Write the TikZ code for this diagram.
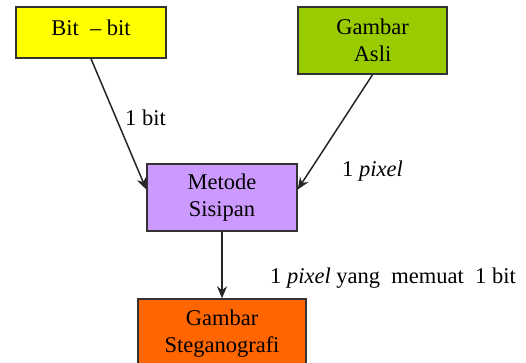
\documentclass[tikz,border=0pt]{standalone}
\usepackage{fontspec}
\setmainfont{Liberation Serif}
\usetikzlibrary{arrows.meta}
\definecolor{boxyellow}{HTML}{FFFF00}
\definecolor{boxgreen}{HTML}{99CC00}
\definecolor{boxpurple}{HTML}{CC99FF}
\definecolor{boxorange}{HTML}{FF6600}
\begin{document}
\begin{tikzpicture}[x=1pt,y=-1pt,
  every node/.style={font=\fontsize{22.5}{27}\selectfont},
  block/.style={draw=black!80, line width=1.4pt, align=center, inner sep=0pt},
  flow/.style={draw=black!85, line width=1.5pt, -{Stealth[length=12pt,width=10pt]}},
  lbl/.style={anchor=west, inner sep=0pt}]
  \clip (0,0) rectangle (526,363);
  \fill[white] (0,0) rectangle (526,363);

  % input, method and output boxes
  \node[block, fill=boxyellow, minimum width=150pt, minimum height=51pt]
    (bits) at (91,32.5) {\raisebox{-3pt}[0pt][0pt]{Bit\ \ -- bit}};
  \node[block, fill=boxgreen, minimum width=149pt, minimum height=67pt]
    (asli) at (372.5,40.5) {Gambar\\Asli};
  \node[block, fill=boxpurple, minimum width=150pt, minimum height=67pt]
    (metode) at (222,197.5) {Metode\\Sisipan};
  \node[block, fill=boxorange, minimum width=168pt, minimum height=70pt]
    (stego) at (222,334) {Gambar\\Steganografi};

  % connectors
  \coordinate (inL) at ([yshift=8pt]metode.west);
  \coordinate (inR) at ([yshift=8pt]metode.east);
  \draw[flow] (bits.south) -- (inL);
  \draw[flow] (asli.south) -- (inR);
  \draw[flow] (metode.south) -- (stego.north);

  % connector labels
  \node[lbl] (lbit) at (125,118) {1 bit};
  \node[lbl] (lpix) at (342,171) {1 \textit{pixel}};
  \node[lbl] (lout) at (270,278) {1 \textit{pixel} yang\ \ memuat\ \ 1 bit};
\end{tikzpicture}
\end{document}
